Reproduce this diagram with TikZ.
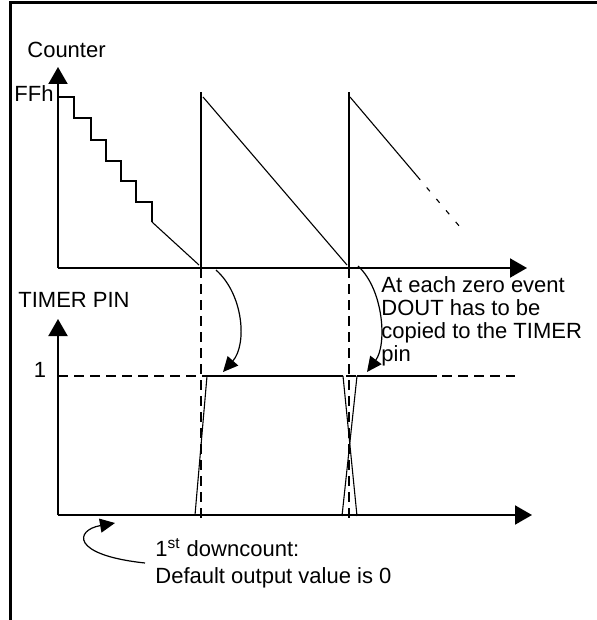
\documentclass[tikz,border=0pt]{standalone}
\usepackage{fontspec}
\setmainfont{Liberation Sans}
\usetikzlibrary{arrows.meta}
\tikzset{
    axisline/.style={line width=1pt, -{Triangle[length=8.5pt, width=9.5pt]}},
    stepline/.style={line width=1pt},
    rampline/.style={line width=0.55pt},
    guide/.style={line width=1pt, dash pattern=on 5pt off 3pt},
    edgeline/.style={line width=0.55pt},
    levelline/.style={line width=0.9pt},
    bendarr/.style={line width=0.6pt, -{Triangle[length=7.5pt, width=7pt]}},
    lbl/.style={font=\fontsize{11}{11.5}\selectfont, inner sep=0pt}
}

\begin{document}
\begin{tikzpicture}[x=0.5pt, y=-0.5pt]
    \useasboundingbox (0,0) rectangle (597,620);
    % frame
    \draw[line width=1.5pt] (597,3) -- (10,3) -- (10,620);
    % counter axes
    \coordinate (corig) at (58,268);
    \draw[axisline] (corig) -- (58,67);
    \draw[axisline] (corig) -- (527,268);
    \node[lbl, anchor=base west] (counterlbl) at (27,58) {Counter};
    \node[lbl, anchor=base east] (ffh) at (54,102) {FFh};
    % first downcount, step by step
    \draw[stepline] (58,97) -- (74,97) -- (74,118) -- (91,118) -- (91,140) -- (106,140)
        -- (106,161) -- (121,161) -- (121,181) -- (136,181) -- (136,202) -- (152,202) -- (152,222);
    \draw[rampline] (152,222) -- (199,265);
    % reload and ramps
    \draw[stepline] (201,268) -- (201,92);
    \draw[rampline] (203,97) -- (347,265);
    \draw[stepline] (349,268) -- (349,92);
    \draw[rampline] (350,97) -- (417,176);
    \draw[rampline, dash pattern=on 2.5pt off 5pt] (417,176) -- (460,227);
    % timer pin axes
    \coordinate (porig) at (58,515);
    \draw[axisline] (porig) -- (58,319);
    \draw[axisline] (porig) -- (532,515);
    \node[lbl, anchor=base west] (pinlbl) at (18,307) {TIMER PIN};
    \node[lbl, anchor=base] (one) at (40,377) {1};
    % guides
    \draw[guide] (58,376) -- (515,376);
    \draw[guide] (201,268) -- (201,520);
    \draw[guide] (349,268) -- (349,520);
    % pin level
    \draw[edgeline] (195,515) -- (207,376);
    \draw[levelline] (207,376) -- (343,376);
    \draw[edgeline] (343,376) -- (357,516);
    \draw[edgeline] (342,516) -- (357,376);
    \draw[levelline] (357,376) -- (437,376);
    % notes
    \node[lbl, anchor=north west, align=left] (zeronote) at (381,276)
        {At each zero event\\DOUT has to be\\copied to the TIMER\\pin};
    \node[lbl, anchor=north west, align=left, font=\fontsize{11}{13.5}\selectfont] (firstnote) at (155,538)
        {1\textsuperscript{st} downcount:\\Default output value is 0};
    \coordinate (zero1) at (216,270);
    \coordinate (high1) at (223,372);
    \coordinate (zero2) at (358,266);
    \coordinate (high2) at (367,372);
    \coordinate (notetail) at (145,563);
    \coordinate (low0) at (115,523);
    \draw[bendarr] (zero1) .. controls (244,295) and (247,345) .. (high1);
    \draw[bendarr] (zero2) .. controls (384,290) and (387,345) .. (high2);
    \draw[bendarr] (notetail) .. controls (70,555) and (75,530) .. (low0);
\end{tikzpicture}
\end{document}
